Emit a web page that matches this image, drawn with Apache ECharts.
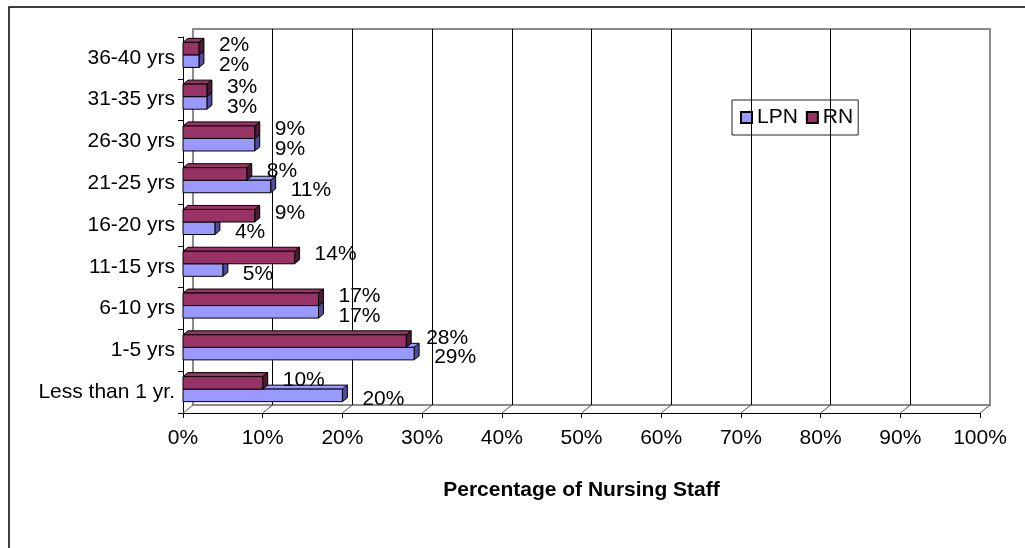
<!DOCTYPE html>
<html>
<head>
<meta charset="utf-8">
<script src="https://cdn.jsdelivr.net/npm/echarts@6/dist/echarts.min.js"></script>
<style>
  html, body { margin: 0; padding: 0; background: #fff; }
  #chart { width: 1025px; height: 548px; }
</style>
</head>
<body>
<div id="chart"></div>
<script>
// 数据
var categories = ["Less than 1 yr.", "1-5 yrs", "6-10 yrs", "11-15 yrs", "16-20 yrs", "21-25 yrs", "26-30 yrs", "31-35 yrs", "36-40 yrs"];
var lpnValues = [20, 29, 17, 5, 4, 11, 9, 3, 2];
var rnValues = [10, 28, 17, 14, 9, 8, 9, 3, 2];
var xTicks = [0, 10, 20, 30, 40, 50, 60, 70, 80, 90, 100];

var FONT = '"Liberation Sans", Arial, sans-serif';

// 3D 柱子
function bar3d(upper, color, sideColor, labelDy) {
  return function (params, api) {
    var val = api.value(0);
    var cat = api.value(1);
    var p0 = api.coord([0, cat]);
    var p1 = api.coord([val, cat]);
    var band = api.size([0, 1])[1];
    var h = band * 0.3;
    var mid = p0[1] - 3;
    var top = upper ? mid - h : mid;
    var bot = upper ? mid : mid + h;
    var x0 = p0[0], x1 = p1[0];
    var dx = 5, dy = 4;
    var line = { stroke: "#000", lineWidth: 1, lineJoin: "round" };
    return {
      type: "group",
      children: [
        {
          type: "polygon",
          shape: { points: [[x0, top], [x1, top], [x1 + dx, top - dy], [x0 + dx, top - dy]] },
          style: Object.assign({ fill: color }, line),
        },
        {
          type: "polygon",
          shape: { points: [[x1, top], [x1 + dx, top - dy], [x1 + dx, bot - dy], [x1, bot]] },
          style: Object.assign({ fill: sideColor }, line),
        },
        {
          type: "rect",
          shape: { x: x0, y: top, width: x1 - x0, height: bot - top },
          style: Object.assign({ fill: color }, line),
        },
        {
          type: "text",
          style: {
            text: val + "%",
            x: x1 + 20,
            y: (top + bot) / 2 + labelDy,
            verticalAlign: "middle",
            font: "21px " + FONT,
            fill: "#000",
          },
        },
      ],
    };
  };
}

// 地板斜线
function floorTick(params, api) {
  var back = api.coord([api.value(0), 0]);
  return {
    type: "line",
    shape: { x1: back[0], y1: back[1], x2: back[0] - 10, y2: back[1] + 8 },
    style: { stroke: "#555", lineWidth: 1 },
  };
}

var chart = echarts.init(document.getElementById("chart"));
chart.setOption({
  backgroundColor: "#fff",
  animation: false,
  textStyle: { fontFamily: FONT },
  graphic: [
    {
      type: "rect",
      shape: { x: 9, y: 7, width: 1100, height: 600 },
      style: { fill: "none", stroke: "#000", lineWidth: 1.5 },
      silent: true,
    },
  ],
  legend: {
    left: 732,
    top: 100,
    orient: "horizontal",
    padding: [7, 5, 7, 8],
    itemGap: 8,
    itemWidth: 11,
    itemHeight: 11,
    borderColor: "#222",
    borderWidth: 1,
    textStyle: { fontSize: 21, color: "#000", fontFamily: FONT },
    data: [
      { name: "LPN", icon: "rect" },
      { name: "RN", icon: "rect" },
    ],
  },
  grid: [
    { left: 183, right: 45, top: 37, bottom: 135 },
    { left: 193, right: 35, top: 29, bottom: 143, show: true, borderColor: "#8c8c8c", borderWidth: 2, backgroundColor: "transparent" },
  ],
  xAxis: [
    {
      type: "value",
      gridIndex: 0,
      min: 0,
      max: 100,
      interval: 10,
      name: "Percentage of Nursing Staff",
      nameLocation: "middle",
      nameGap: 67,
      nameTextStyle: { fontSize: 21, fontWeight: "bold", color: "#000", fontFamily: FONT },
      axisLine: { show: true, lineStyle: { color: "#000", width: 1 } },
      axisTick: { show: true, length: 5, lineStyle: { color: "#000" } },
      axisLabel: { fontSize: 21, color: "#000", margin: 15, formatter: "{value}%" },
      splitLine: { show: false },
    },
    {
      type: "value",
      gridIndex: 1,
      min: xTicks[0],
      max: xTicks[xTicks.length - 1],
      interval: 10,
      axisLine: { show: false },
      axisTick: { show: false },
      axisLabel: { show: false },
      splitLine: { show: true, showMinLine: false, showMaxLine: false, lineStyle: { color: "#000", width: 1 } },
    },
  ],
  yAxis: [
    {
      type: "category",
      gridIndex: 0,
      data: categories,
      axisLine: { show: true, lineStyle: { color: "#000", width: 1 } },
      axisTick: { show: true, length: 5, lineStyle: { color: "#000" } },
      axisLabel: { fontSize: 21, color: "#000", margin: 8 },
    },
    {
      type: "value",
      gridIndex: 1,
      min: 0,
      max: 1,
      show: false,
      splitLine: { show: false },
    },
  ],
  series: [
    {
      name: "floor",
      type: "custom",
      xAxisIndex: 1,
      yAxisIndex: 1,
      silent: true,
      renderItem: floorTick,
      encode: { x: 0 },
      data: xTicks.map(function (t) { return [t]; }),
    },
    {
      name: "LPN",
      type: "custom",
      xAxisIndex: 0,
      yAxisIndex: 0,
      itemStyle: { color: "#9999ff", borderColor: "#000", borderWidth: 1 },
      renderItem: bar3d(false, "#9999ff", "#4d4d99", 4),
      encode: { x: 0, y: 1 },
      data: lpnValues.map(function (v, i) { return [v, i]; }),
    },
    {
      name: "RN",
      type: "custom",
      xAxisIndex: 0,
      yAxisIndex: 0,
      itemStyle: { color: "#993366", borderColor: "#000", borderWidth: 1 },
      renderItem: bar3d(true, "#993366", "#4d1a33", -3),
      encode: { x: 0, y: 1 },
      data: rnValues.map(function (v, i) { return [v, i]; }),
    },
  ],
});
</script>
</body>
</html>
